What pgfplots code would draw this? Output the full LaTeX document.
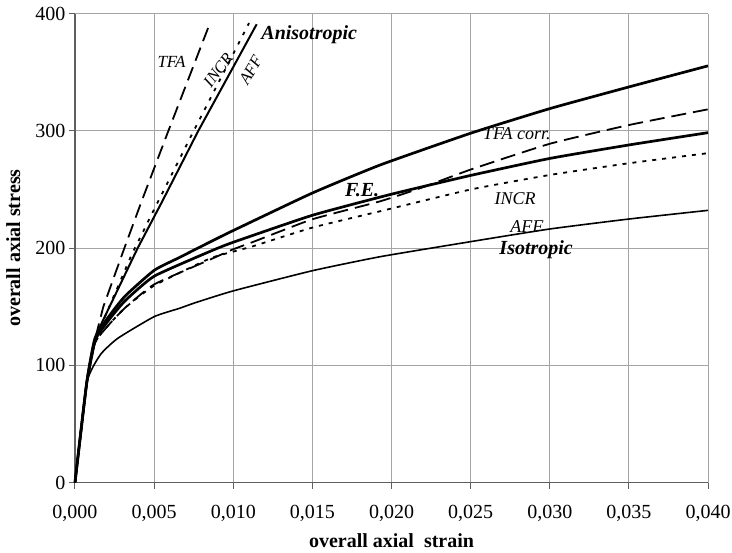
\documentclass[border=0pt]{standalone}
\usepackage{fontspec}
\setmainfont{Liberation Serif}
\usepackage{pgfplots}
\pgfplotsset{compat=1.18}
\definecolor{gridgray}{RGB}{165,165,165}
\definecolor{axgray}{RGB}{95,95,95}
\begin{document}
\begin{tikzpicture}
\path[use as bounding box] (-75bp,-70.5bp) rectangle (657bp,482.5bp);
\begin{axis}[
  at={(0,0)}, anchor=south west,
  scale only axis, width=633bp, height=468.8bp,
  xmin=0, xmax=0.04, ymin=0, ymax=400,
  axis lines=left, axis line style={-, axgray, line width=1.2bp},
  xtick={0,0.005,0.01,0.015,0.02,0.025,0.03,0.035,0.04},
  xticklabels={{0,000},{0,005},{0,010},{0,015},{0,020},{0,025},{0,030},{0,035},{0,040}},
  ytick={0,100,200,300,400}, yticklabels={0,100,200,300,400},
  scaled x ticks=false,
  grid=major, major grid style={gridgray, line width=0.9bp},
  tick align=outside, major tick length=6bp, tick style={axgray, line width=1bp},
  ticklabel style={font=\fontsize{20bp}{24bp}\selectfont},
  xticklabel style={anchor=center, yshift=-25bp},
  clip=false,
  xlabel={overall axial\ \ strain}, ylabel={overall axial stress},
  label style={font=\fontsize{20bp}{24bp}\selectfont\bfseries},
  xlabel style={at={(axis description cs:0.5,-0.1245)}, anchor=center},
  ylabel style={at={(axis description cs:-0.0975,0.5)}, anchor=center},
]
% Isotropic, thin solid
\addplot[black, line width=1.6bp, smooth, tension=0.3] coordinates {
(0,0) (0.00074,85) (0.0016,109) (0.0027,123) (0.005,141.5) (0.0066,148.6) (0.0076,153.4)
(0.010,163.5) (0.015,180.7) (0.0193,192.7) (0.025,205.5) (0.030,216.3) (0.035,224.8) (0.040,232.2)};
% upper thick solid
\addplot[black, line width=2.7bp, smooth, tension=0.3] coordinates {
(0,0) (0.00074,85) (0.00126,123) (0.0021,141) (0.00316,159) (0.005,181) (0.0066,192) (0.0085,205)
(0.010,215) (0.015,247) (0.0193,271) (0.025,298) (0.030,319) (0.035,337.5) (0.040,355.5)};
% second thick solid
\addplot[black, line width=2.7bp, smooth, tension=0.3] coordinates {
(0,0) (0.00074,85) (0.00126,121) (0.0021,138) (0.00316,155) (0.005,176) (0.0085,197)
(0.010,205) (0.015,228) (0.020,246) (0.025,262) (0.030,276.5) (0.035,288) (0.040,298.5)};
% TFA corr dashed
\addplot[black, line width=1.8bp, dash pattern=on 15bp off 7bp, smooth, tension=0.3] coordinates {
(0,0) (0.00074,85) (0.00126,119) (0.0021,134) (0.00316,149) (0.005,169) (0.0085,190)
(0.010,199) (0.0113,205.5) (0.015,224.6) (0.0193,240) (0.022,252) (0.025,267) (0.030,289) (0.035,305) (0.040,318.4)};
% INCR dotted (lower)
\addplot[black, line width=1.8bp, dash pattern=on 4bp off 6bp, smooth, tension=0.3] coordinates {
(0,0) (0.00074,85) (0.00126,119) (0.0021,134) (0.00316,149) (0.005,168) (0.0085,191)
(0.010,197) (0.0113,201.8) (0.015,217.5) (0.0193,231.5) (0.025,250) (0.030,262.4) (0.035,272.4) (0.040,281)};
% steep TFA dashed
\addplot[black, line width=1.8bp, dash pattern=on 14bp off 7bp] coordinates {
(0,0) (0.00074,85) (0.00126,122) (0.00179,150) (0.00312,200) (0.00421,240) (0.0059,300) (0.00853,392)};
% steep INCR dotted
\addplot[black, line width=1.8bp, dash pattern=on 3.5bp off 7bp] coordinates {
(0,0) (0.00074,85) (0.00126,121) (0.0021,148) (0.0036,195) (0.005,233) (0.0075,300) (0.011,392)};
% steep AFF solid
\addplot[black, line width=2bp] coordinates {
(0,0) (0.00074,85) (0.00126,120) (0.00158,133) (0.00396,200) (0.00548,239) (0.00779,300) (0.01148,391)};
% labels
\node[font=\fontsize{17bp}{20bp}\selectfont\itshape, inner sep=0pt] at (axis cs:0.0061,359) {TFA};
\node[font=\fontsize{16.5bp}{20bp}\selectfont\itshape, rotate=53, inner sep=0pt] at (axis cs:0.00905,352) {INCR};
\node[font=\fontsize{16.5bp}{20bp}\selectfont\itshape, rotate=60, inner sep=0pt] at (axis cs:0.0111,352) {AFF};
\node[font=\fontsize{20bp}{22bp}\selectfont\bfseries\itshape, inner sep=0pt] at (axis cs:0.0148,381.8) {Anisotropic};
\node[font=\fontsize{20bp}{22bp}\selectfont\bfseries\itshape] at (axis cs:0.01814,249.6) {F.E.};
\node[font=\fontsize{18bp}{20bp}\selectfont\itshape] at (axis cs:0.02792,298) {TFA corr.};
\node[font=\fontsize{18bp}{20bp}\selectfont\itshape] at (axis cs:0.02781,242.5) {INCR};
\node[font=\fontsize{18bp}{20bp}\selectfont\itshape] at (axis cs:0.02855,218.3) {AFF};
\node[font=\fontsize{20bp}{22bp}\selectfont\bfseries\itshape] at (axis cs:0.02914,198.4) {Isotropic};
\end{axis}
\end{tikzpicture}
\end{document}
